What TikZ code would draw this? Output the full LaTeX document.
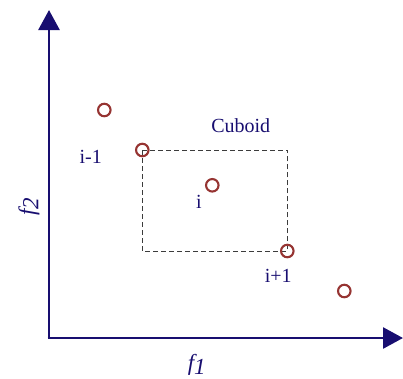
\documentclass[tikz,border=0pt]{standalone}
\usepackage{fontspec}
\setmainfont{Liberation Serif}
\usetikzlibrary{arrows.meta}
\definecolor{navy}{RGB}{24,14,112}
\definecolor{ptred}{RGB}{150,52,50}
\definecolor{dashgray}{RGB}{60,60,60}
\tikzset{
  axis/.style={navy,line width=2.6pt,-{Triangle[length=20pt,width=21pt]}},
  pt/.style={circle,draw=ptred,line width=2.1pt,minimum size=12.5pt,inner sep=0pt},
  lbl/.style={text=navy,font=\fontsize{20}{21}\selectfont,inner sep=0pt},
  axlbl/.style={text=navy,font=\fontsize{23}{24}\selectfont\itshape,inner sep=0pt},
  box/.style={dashgray,line width=1pt,dash pattern=on 5pt off 3pt}
}
\begin{document}
\begin{tikzpicture}[x=1pt,y=-1pt]
\useasboundingbox (0,0) rectangle (403,378);
\coordinate (o) at (49,338);
\coordinate (ytop) at (49,10);
\coordinate (xend) at (403,338);
\draw[axis] (o) -- (ytop);
\draw[axis] ([xshift=-1.3pt]o) -- (xend);
\coordinate (bl) at (142.3,150);
\coordinate (tr) at (287.6,251);
\draw[box] (bl) rectangle (tr);
\node[pt] (p1) at (104.3,110) {};
\node[pt] (p2) at (142.3,150) {};
\node[pt] (p3) at (212.3,185.3) {};
\node[pt] (p4) at (287.3,251) {};
\node[pt] (p5) at (344.3,291) {};
\node[lbl] (cub) at (240.7,126) {Cuboid};
\node[lbl] (lm) at (90.7,157) {i-1};
\node[lbl] (li) at (199,201.5) {i};
\node[lbl] (lp) at (278.3,275.5) {i+1};
\node[axlbl] (f1) at (196.7,365) {f\raisebox{-0.35ex}{1}};
\node[axlbl,rotate=90] (f2) at (29,207) {f\raisebox{-0.35ex}{2}};
\end{tikzpicture}
\end{document}
